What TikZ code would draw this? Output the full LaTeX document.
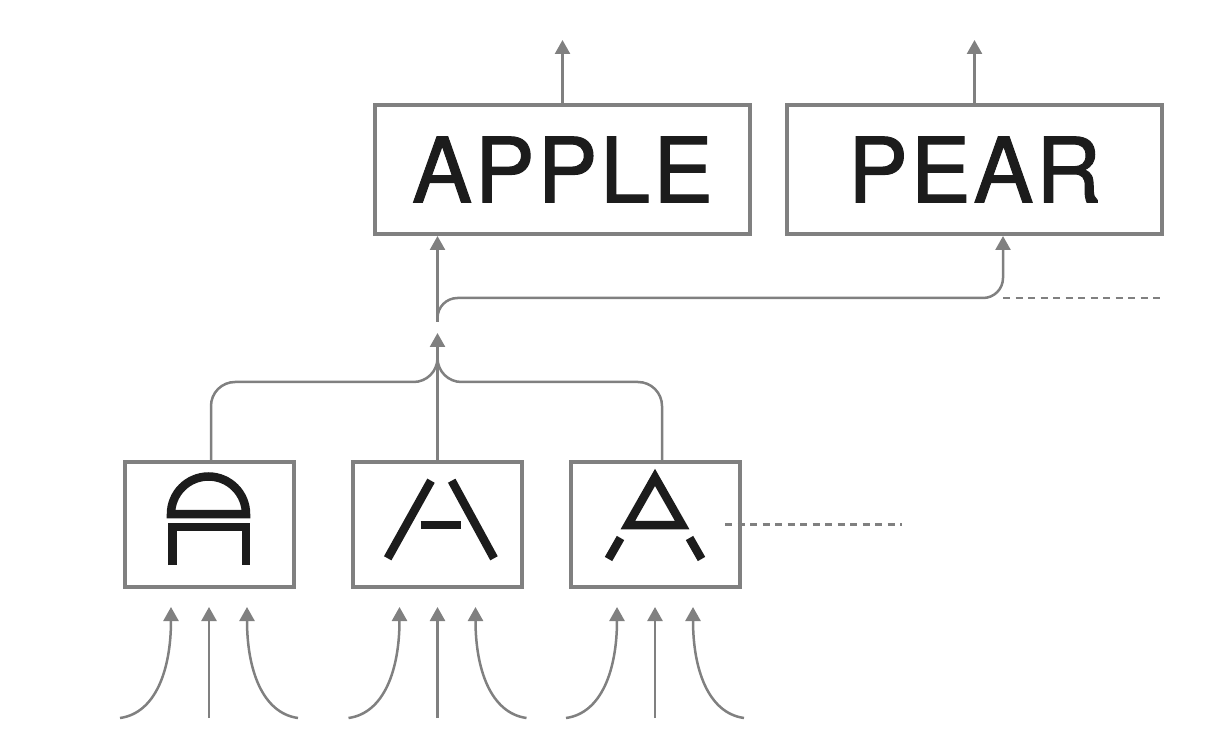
\documentclass[tikz,border=0pt]{standalone}
\usepackage{fontspec}
\usetikzlibrary{arrows.meta}
\newfontfamily\wordfont[LetterSpace=3,FakeBold=1.2]{TeX Gyre Heros}
\definecolor{linegray}{RGB}{128,128,128}
\definecolor{inkblack}{RGB}{28,28,28}
\tikzset{
  word/.style={draw=linegray, line width=4pt, minimum width=375pt, minimum height=129pt, inner sep=0pt, text=inkblack, font=\wordfont\fontsize{90}{94}\selectfont},
  glyphbox/.style={draw=linegray, line width=4pt, minimum width=169pt, minimum height=125pt},
  glyph/.style={draw=inkblack, line width=8.5pt, line join=miter},
  link/.style={draw=linegray, line width=2.5pt},
  arr/.style={link, -{Triangle[length=14pt,width=15pt]}},
  dashline/.style={draw=linegray, line width=2.5pt, dash pattern=on 7pt off 5.5pt}
}
\begin{document}
\begin{tikzpicture}[x=1pt,y=1pt]
  \useasboundingbox (0,0) rectangle (1207,737);
  \node[word] (apple) at (562.5,567.5) {APPLE};
  \node[word] (pear) at (974.5,567.5) {PEAR};
  \node[glyphbox] (a1) at (209,212.5) {};
  \node[glyphbox] (a2) at (437.5,212.5) {};
  \node[glyphbox] (a3) at (655,212.5) {};
  \coordinate (hub) at (437.5,404);
  \coordinate (fork) at (437.5,355);
  \coordinate (split) at (437.5,415);
  \coordinate (bend) at (1003,439);
  \draw[arr] (apple.north) -- ++(0,63);
  \draw[arr] (pear.north) -- ++(0,63);
  \draw[arr] (split) -- (split |- apple.south);
  \draw[arr, rounded corners=20pt] (split) |- (bend) -- (bend |- pear.south);
  \draw[dashline] (bend) -- ++(162,0);
  \draw[arr] (a2.north) -- (hub);
  \draw[link, rounded corners=24pt] ([xshift=2pt]a1.north) |- (fork) -- ([yshift=-18pt]hub);
  \draw[link, rounded corners=24pt] ([xshift=7pt]a3.north) |- (fork) -- ([yshift=-18pt]hub);
  \draw[dashline] ([xshift=-16.5pt]a3.east) -- ++(177,0);
  \foreach \n in {a1,a2,a3}{
    \draw[arr] ([yshift=-129pt]\n.south) -- ([yshift=-18pt]\n.south);
    \draw[arr] ([shift={(-89pt,-129pt)}]\n.south) .. controls +(36,5) and +(0,-62) .. ([shift={(-38pt,-18pt)}]\n.south);
    \draw[arr] ([shift={(89pt,-129pt)}]\n.south) .. controls +(-36,5) and +(0,-62) .. ([shift={(38pt,-18pt)}]\n.south);
  }
  \begin{scope}[shift={(a1.center)}]
    \draw[glyph] (-38,10.5) arc (180:0:37.5) -- cycle;
    \draw[glyph] (-36.5,-40.5) -- (-36.5,-2.5) -- (37,-2.5) -- (37,-40.5);
  \end{scope}
  \begin{scope}[shift={(a2.center)}]
    \draw[glyph] (-6.5,43.8) -- (-49.8,-33.8);
    \draw[glyph] (14.2,43.8) -- (56.5,-33.8);
    \draw[glyph] (-16.8,-0.5) -- (23.2,-0.5);
  \end{scope}
  \begin{scope}[shift={(a3.center)}]
    \draw[glyph] (0,47.1) -- (-27.1,-0.5) -- (27.1,-0.5) -- cycle;
    \draw[glyph] (-34.5,-13.5) -- (-46.5,-34.5);
    \draw[glyph] (34.5,-13.5) -- (46.5,-34.5);
  \end{scope}
\end{tikzpicture}
\end{document}
